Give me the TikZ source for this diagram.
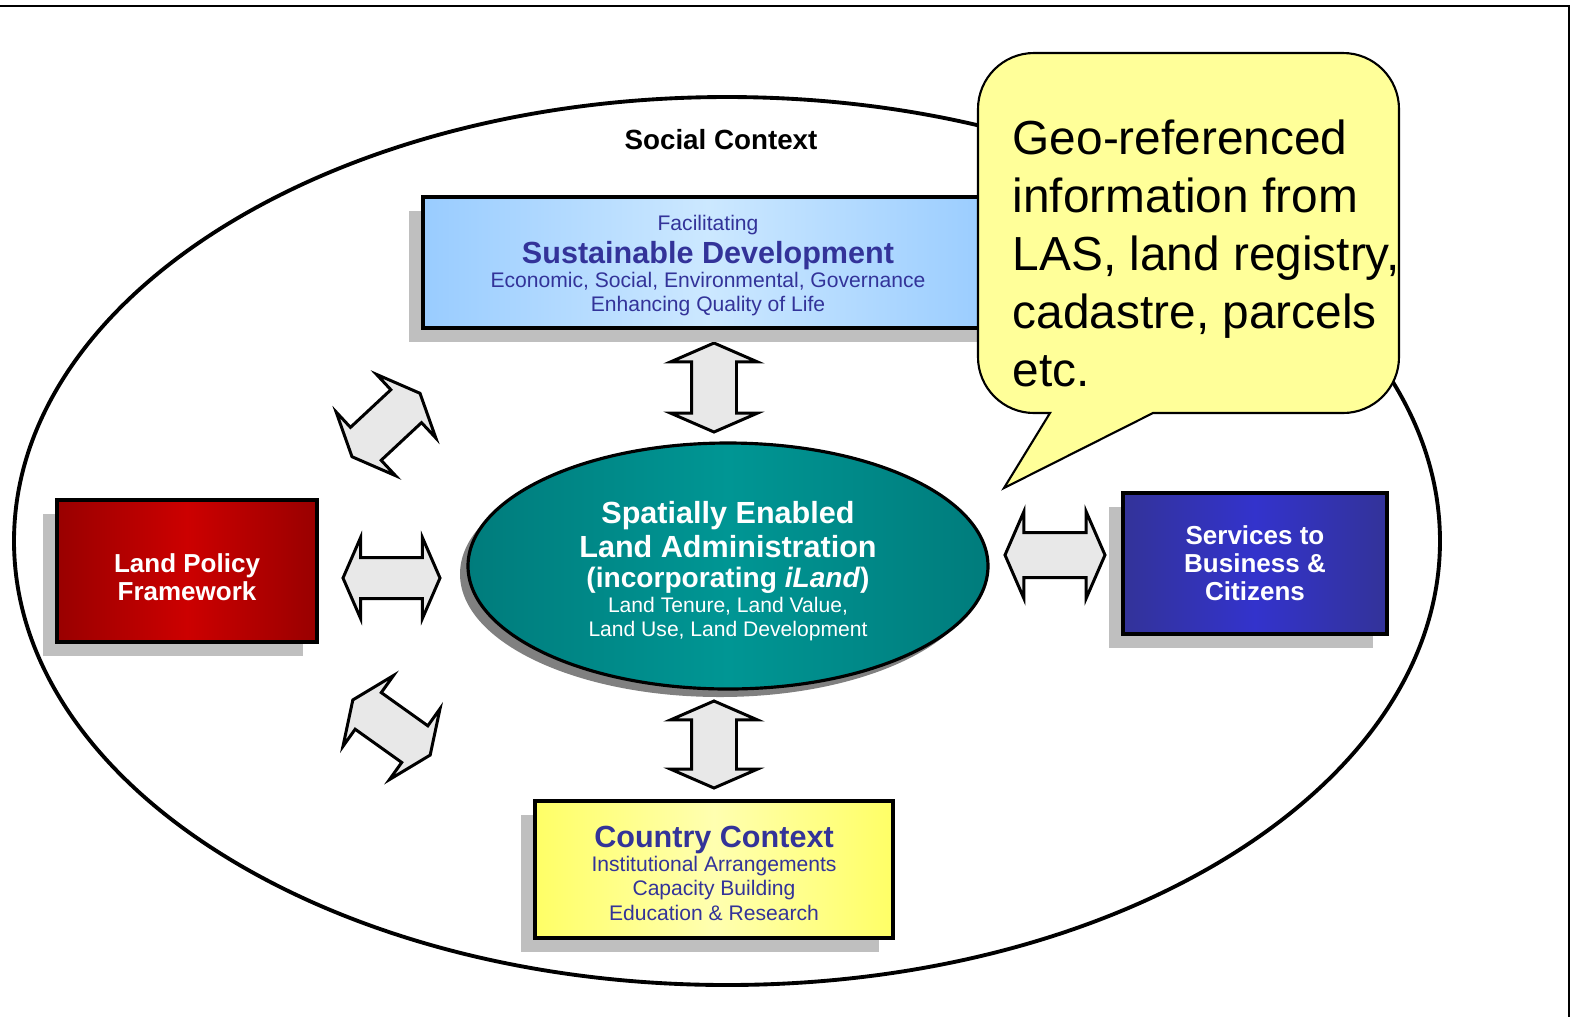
\documentclass[tikz,border=0pt]{standalone}
\usepackage{fontspec}
\setmainfont{Liberation Sans}
\usepackage{tikz}
\usetikzlibrary{backgrounds,shapes,shapes.geometric,shapes.arrows,shadows}
\definecolor{navytext}{HTML}{333399}
\definecolor{skyedge}{HTML}{99CCFF}
\definecolor{skymid}{HTML}{CCE8FF}
\definecolor{rededge}{HTML}{990000}
\definecolor{redmid}{HTML}{CC0000}
\definecolor{navyedge}{HTML}{333399}
\definecolor{navymid}{HTML}{3333CC}
\definecolor{yellowedge}{HTML}{FFFF66}
\definecolor{yellowmid}{HTML}{FFFFB0}
\definecolor{tealedge}{HTML}{007C7C}
\definecolor{tealmid}{HTML}{009694}
\definecolor{arrowgrey}{HTML}{E8E8E8}
\definecolor{balloon}{HTML}{FFFF99}
\pgfdeclarelayer{edgelayer}
\pgfdeclarelayer{nodelayer}
\pgfsetlayers{edgelayer,nodelayer,main}
\newcommand{\lassmall}{\fontsize{6pt}{6.9pt}\selectfont\mdseries}
\newcommand{\lashead}{\fontsize{8.7pt}{9.6pt}\selectfont\bfseries}
\newcommand{\lasbox}{\fontsize{7.4pt}{8pt}\selectfont\bfseries}
\newcommand{\lasrise}[1]{\rule{0pt}{#1}}
\tikzstyle{box}=[rectangle, draw=black, line width=0.9pt, inner sep=0pt, align=center, font=\lassmall, drop shadow={shadow xshift=-1.45mm, shadow yshift=-1.4mm, fill=black!25, opacity=1}]
\tikzstyle{core}=[ellipse, draw=black, line width=0.9pt, left color=tealedge, right color=tealedge, middle color=tealmid, inner sep=0pt, align=center, font=\lassmall, text=white, minimum width=52mm, minimum height=24.6mm, drop shadow={shadow xshift=-0.8mm, shadow yshift=-0.8mm, fill=black!50, opacity=1}]
\tikzstyle{link}=[double arrow, draw=black, line width=0.85pt, fill=arrowgrey, inner sep=0pt, inner ysep=2.1mm, double arrow head extend=2.1mm, double arrow tip angle=133, minimum height=9.2mm]

\begin{document}
\begin{tikzpicture}[x=0.1mm, y=-0.1mm]
    \useasboundingbox (0,0) rectangle (1571,1017);
    \begin{pgfonlayer}{edgelayer}
        \draw [line width=0.6pt] (0,6) -- (1569,6) -- (1569,1017);
        \node [draw=black, line width=1.1pt, ellipse, minimum width=142.6mm, minimum height=88.8mm] (social) at (727,541) {};
        \node [link, rotate=90, minimum height=8.9mm] (arrowtop) at (714,387.5) {};
        \node [link, rotate=90, minimum height=8.7mm] (arrowbottom) at (714,744.5) {};
        \node [link, minimum height=9.7mm, inner ysep=1.9mm, double arrow head extend=2mm] (arrowleft) at (391.5,578) {};
        \node [link, minimum height=10mm] (arrowright) at (1055,555) {};
        \node [link, rotate=43, minimum height=9.3mm] (arrowupper) at (386,425) {};
        \node [link, rotate=-35.5, minimum height=9.5mm] (arrowlower) at (391.5,727.5) {};
    \end{pgfonlayer}
    \begin{pgfonlayer}{nodelayer}
        \node [font=\fontsize{7.9pt}{8pt}\selectfont\bfseries] (socialtitle) at (721,140) {Social Context};
        \node [box, left color=skyedge, right color=skyedge, middle color=skymid, text=navytext, minimum width=57mm, minimum height=13.1mm] (sustain) at (708,262.5)
            {\lasrise{2.15mm}Facilitating\\[0.8pt] \lashead Sustainable Development\\ Economic, Social, Environmental, Governance\\ Enhancing Quality of Life};
        \node [box, left color=rededge, right color=rededge, middle color=redmid, text=white, font=\lasbox, minimum width=26mm, minimum height=14.2mm] (policy) at (187,571)
            {\lasrise{3.1mm}Land Policy\\ Framework};
        \node [box, left color=navyedge, right color=navyedge, middle color=navymid, text=white, font=\lasbox, minimum width=26.4mm, minimum height=14.1mm] (services) at (1255,563.5)
            {Services to\\ Business \&\\ Citizens};
        \node [box, left color=yellowedge, right color=yellowedge, middle color=yellowmid, text=navytext, minimum width=35.8mm, minimum height=13.7mm] (country) at (714,869.5)
            {\lashead\lasrise{2.85mm}Country Context\\ Institutional Arrangements\\ Capacity Building\\ Education \& Research};
        \node [core] (sela) at (728,566)
            {\lashead\lasrise{3.2mm}Spatially Enabled\\[0.7pt] \lashead Land Administration\\[1.6pt] \fontsize{8pt}{9pt}\selectfont\bfseries (incorporating \textit{iLand})\\ Land Tenure, Land Value,\\ Land Use, Land Development};
    \end{pgfonlayer}
    % callout
    \draw [line width=0.6pt, fill=balloon, rounded corners=5.6mm] (1188,53) -- (1399,53) -- (1399,413) [sharp corners] -- (1153,413) -- (1004,488) -- (1050,413) [rounded corners=5.6mm] -- (978,413) -- (978,53) -- cycle;
    \node [anchor=north west, inner sep=0pt, align=left, font=\fontsize{13.6pt}{16.5pt}\selectfont] (geoinfo) at (1012,119)
        {Geo-referenced\\ information from\\ LAS, land registry,\\ cadastre, parcels\\ etc.};
\end{tikzpicture}
\end{document}
